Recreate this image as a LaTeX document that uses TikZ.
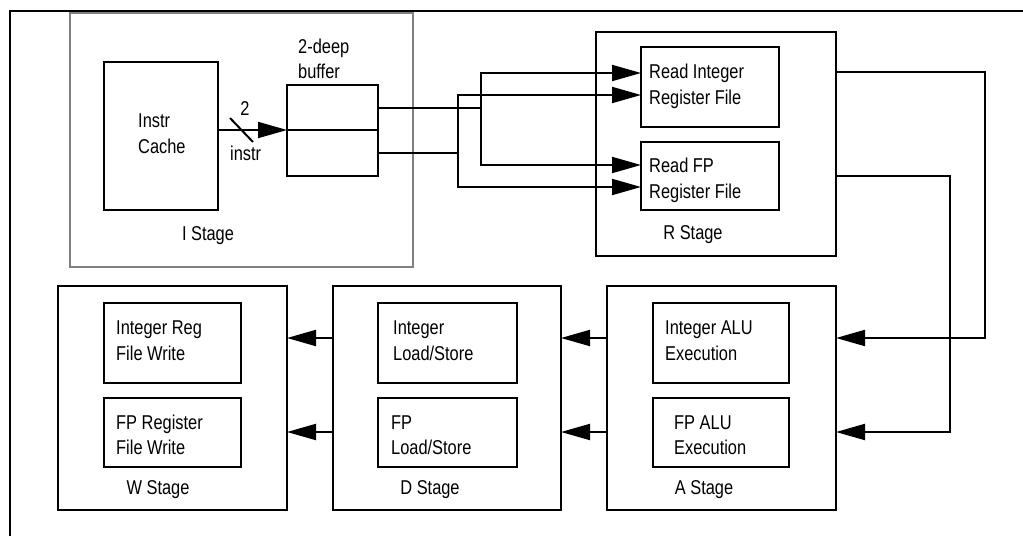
\documentclass[tikz,border=0pt]{standalone}
\usepackage{fontspec}
\setmainfont{Liberation Sans}[FakeStretch=0.82]
\usetikzlibrary{arrows.meta,calc}
\newcommand{\bx}[6]{\node[box,#6,minimum width={(#4-#2)*1pt},minimum height={(#5-#3)*1pt},anchor=north west] (#1) at (#2,#3) {};}
\begin{document}
\begin{tikzpicture}[x=1pt,y=-1pt,
  box/.style={draw,line width=2pt,inner sep=0pt,outer sep=0pt,rectangle},
  grayframe/.style={draw=black!50},
  ln/.style={line width=2pt},
  arr/.style={line width=2pt,-{Triangle[length=29pt,width=16pt]}},
  txt/.style={font=\fontsize{20pt}{26pt}\selectfont,inner sep=0pt,anchor=base west},
  ctxt/.style={font=\fontsize{20pt}{26pt}\selectfont,inner sep=0pt,anchor=base}]
\useasboundingbox (0,0) rectangle (1023,536);
% outer frame
\draw[ln] (10,536) -- (10,11) -- (1023,11);
% I stage
\bx{istage}{70}{13}{413}{267}{grayframe}
\bx{cache}{104}{62}{218}{210}{}
\bx{buf1}{287}{85}{378}{130}{}
\bx{buf2}{287}{130}{378}{176}{}
% R stage
\bx{rstage}{596}{32}{836}{256}{}
\bx{readint}{641}{47}{779}{127}{}
\bx{readfp}{641}{142}{779}{210}{}
% A stage
\bx{astage}{607}{286}{836}{510}{}
\bx{intalu}{653}{303}{789}{383}{}
\bx{fpalu}{653}{398}{789}{467}{}
% D stage
\bx{dstage}{333}{286}{561}{510}{}
\bx{intls}{378}{303}{517}{383}{}
\bx{fpls}{378}{398}{517}{467}{}
% W stage
\bx{wstage}{58}{286}{287}{510}{}
\bx{intw}{104}{303}{241}{383}{}
\bx{fpw}{104}{398}{241}{467}{}
% texts
\node[txt] (t1) at (138,127) {Instr};
\node[txt] (t2) at (138,153) {Cache};
\node[ctxt] (t3) at (245,115) {2};
\node[txt] (t4) at (230,160) {instr};
\node[txt] (t5) at (298,53) {2-deep};
\node[txt] (t6) at (298,78) {buffer};
\node[ctxt] (t7) at (208,240) {I Stage};
\node[txt] (t8) at (649,78) {Read Integer};
\node[txt] (t9) at (649,104) {Register File};
\node[txt] (t10) at (649,172) {Read FP};
\node[txt] (t11) at (649,198) {Register File};
\node[ctxt] (t12) at (693,239) {R Stage};
\node[txt] (t13) at (665,334) {Integer ALU};
\node[txt] (t14) at (665,360) {Execution};
\node[txt] (t15) at (674,429) {FP ALU};
\node[txt] (t16) at (674,454) {Execution};
\node[ctxt] (t17) at (704,494) {A Stage};
\node[txt] (t18) at (393,334) {Integer};
\node[txt] (t19) at (393,360) {Load/Store};
\node[txt] (t20) at (391,429) {FP};
\node[txt] (t21) at (391,454) {Load/Store};
\node[ctxt] (t22) at (430,494) {D Stage};
\node[txt] (t23) at (116,334) {Integer Reg};
\node[txt] (t24) at (116,360) {File Write};
\node[txt] (t25) at (116,429) {FP Register};
\node[txt] (t26) at (116,454) {File Write};
\node[ctxt] (t27) at (158,494) {W Stage};
% connectors
\draw[arr] (cache.east |- buf1.south) -- (buf1.south west);
\draw[ln] (230,118) -- (253,142);
\draw[arr] (buf1.east) -| (481,73) -- (readint.west |- 0,73);
\draw[arr] (buf1.east) -| (481,165) -- (readfp.west |- 0,165);
\draw[arr] (buf2.east) -| (458,95) -- (readint.west |- 0,95);
\draw[arr] (buf2.east) -| (458,187) -- (readfp.west |- 0,187);
\draw[arr] (rstage.east |- 0,72) -| (985,338) -- (astage.east |- 0,338);
\draw[arr] (rstage.east |- 0,176) -| (950,432) -- (astage.east |- 0,432);
\draw[arr] (astage.west |- 0,338) -- (dstage.east |- 0,338);
\draw[arr] (astage.west |- 0,432) -- (dstage.east |- 0,432);
\draw[arr] (dstage.west |- 0,338) -- (wstage.east |- 0,338);
\draw[arr] (dstage.west |- 0,432) -- (wstage.east |- 0,432);
\end{tikzpicture}
\end{document}
